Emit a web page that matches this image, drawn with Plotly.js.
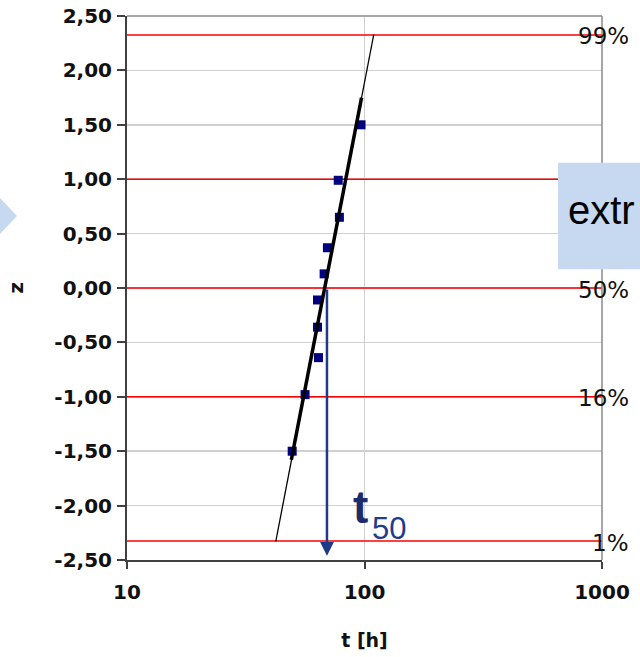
<!DOCTYPE html>
<html>
<head>
<meta charset="utf-8">
<script src="https://cdn.plot.ly/plotly-3.0.1.min.js"></script>
<style>html,body{margin:0;padding:0;background:#fff;}#chart{width:640px;height:657px;}</style>
</head>
<body>
<div id="chart"></div>
<script>
// Data
const tValues = [49.6, 56.2, 64.0, 63.4, 63.4, 67.6, 69.8, 78.4, 77.5, 96.7];
const zValues = [-1.50, -0.98, -0.64, -0.36, -0.11, 0.13, 0.37, 0.65, 0.99, 1.50];

const fitT = [42.3, 109.4];
const fitZ = [-2.33, 2.33];
const thickT = [49.2, 97.2];
const thickZ = [-1.58, 1.75];

const t50 = 69.5;
const arrowTopZ = 0;
const arrowTipZ = -2.46;

const refZ = [2.326, 1, 0, -1, -2.326];
const refLabels = ['99%', '', '50%', '16%', '1%'];

const xRange = [10, 1000];
const yTickVals = [2.5, 2, 1.5, 1, 0.5, 0, -0.5, -1, -1.5, -2, -2.5];
const yTickText = ['2,50', '2,00', '1,50', '1,00', '0,50', '0,00', '-0,50', '-1,00', '-1,50', '-2,00', '-2,50'];
const xTickVals = [10, 100, 1000];
const xTickText = ['10', '100', '1000'];

const tickFont = {family: 'DejaVu Sans', size: 20, color: '#111111', weight: 'bold'};

const traces = [];
refZ.forEach(z => traces.push({x: xRange, y: [z, z], type: 'scatter', mode: 'lines',
  line: {color: '#FF0000', width: 1.5}, hoverinfo: 'skip', cliponaxis: false}));
traces.push(
  {x: tValues, y: zValues, type: 'scatter', mode: 'markers',
   marker: {symbol: 'square', size: 9, color: '#000080'}, hoverinfo: 'skip'},
  {x: fitT, y: fitZ, type: 'scatter', mode: 'lines',
   line: {color: '#000000', width: 1.3}, hoverinfo: 'skip'},
  {x: thickT, y: thickZ, type: 'scatter', mode: 'lines',
   line: {color: '#000000', width: 3.5}, hoverinfo: 'skip'}
);

const shapes = [];
// top and right border
shapes.push({type: 'line', xref: 'paper', yref: 'paper', x0: 0, x1: 1, y0: 1, y1: 1, line: {color: '#8a8a8a', width: 1.5}, layer: 'above'});
shapes.push({type: 'line', xref: 'paper', yref: 'paper', x0: 1, x1: 1, y0: 0, y1: 1, line: {color: '#8a8a8a', width: 1.5}, layer: 'above'});
// "extr" box
shapes.push({type: 'rect', xref: 'paper', yref: 'paper', x0: 0.9074, x1: 1.2, y0: 0.5344, y1: 0.7303,
  fillcolor: '#C6D9F1', line: {width: 0}, layer: 'above'});
// left triangle
shapes.push({type: 'path', xref: 'paper', yref: 'paper',
  path: 'M -0.32 0.7 L -0.2674 0.6654 L -0.2316 0.6324 L -0.2674 0.5993 L -0.32 0.565 Z',
  fillcolor: '#C6D9F1', line: {width: 0}, layer: 'above'});

const annotations = [];
refZ.forEach((z, i) => {
  if (refLabels[i]) annotations.push({xref: 'paper', yref: 'y', x: 1.061, y: z, xanchor: 'right', yanchor: 'middle',
    yshift: -1.5, text: refLabels[i], showarrow: false, font: {family: 'DejaVu Sans', size: 23, color: '#111111'}});
});
annotations.push({xref: 'x', yref: 'y', axref: 'x', ayref: 'y',
  x: Math.log10(t50), y: arrowTipZ, ax: Math.log10(t50), ay: arrowTopZ,
  text: '', showarrow: true, arrowhead: 2, arrowsize: 1.1, arrowwidth: 2.5, arrowcolor: '#1F3A86', standoff: 0});
annotations.push({xref: 'paper', yref: 'paper', x: (360.5 - 127) / 475, y: (560 - 507) / 544, xanchor: 'center', yanchor: 'middle',
  text: '<b>t</b>', showarrow: false, font: {family: 'Liberation Sans', size: 46, color: '#1c2b6b'}});
annotations.push({xref: 'paper', yref: 'paper', x: (370 - 127) / 475, y: (560 - 528.5) / 544, xanchor: 'left', yanchor: 'middle',
  text: '50', showarrow: false, font: {family: 'Liberation Sans', size: 31, color: '#1f3d8f'}});
annotations.push({xref: 'paper', yref: 'paper', x: (566 - 127) / 475, y: (560 - 210) / 544, xanchor: 'left', yanchor: 'middle',
  text: 'extr', showarrow: false, font: {family: 'Liberation Sans', size: 40, color: '#000000'}});

const layout = {
  width: 640, height: 657,
  margin: {l: 127, r: 38, t: 16, b: 97},
  paper_bgcolor: '#ffffff', plot_bgcolor: '#ffffff',
  showlegend: false,
  xaxis: {
    type: 'log', range: [1, 3],
    tickvals: xTickVals, ticktext: xTickText,
    showgrid: true, gridcolor: '#D0D0D0', gridwidth: 1.5,
    showline: true, linecolor: '#404040', linewidth: 2,
    ticks: 'outside', ticklen: 7, tickwidth: 2, tickcolor: '#404040',
    ticklabelstandoff: 6,
    tickfont: tickFont, zeroline: false,
    title: {text: 't [h]', font: {family: 'DejaVu Sans', size: 19, color: '#111111', weight: 'bold'}, standoff: 31}
  },
  yaxis: {
    range: [-2.5, 2.5],
    tickvals: yTickVals, ticktext: yTickText,
    showgrid: true, gridcolor: '#D0D0D0', gridwidth: 1.5,
    showline: true, linecolor: '#404040', linewidth: 2,
    ticks: 'outside', ticklen: 8, tickwidth: 2, tickcolor: '#404040',
    ticklabelstandoff: 1,
    tickfont: tickFont, zeroline: false,
    title: {text: 'z', font: {family: 'DejaVu Sans', size: 20, color: '#111111', weight: 'bold'}, standoff: 25}
  },
  shapes: shapes,
  annotations: annotations
};

Plotly.newPlot('chart', traces, layout, {displayModeBar: false, staticPlot: true});
</script>
</body>
</html>
